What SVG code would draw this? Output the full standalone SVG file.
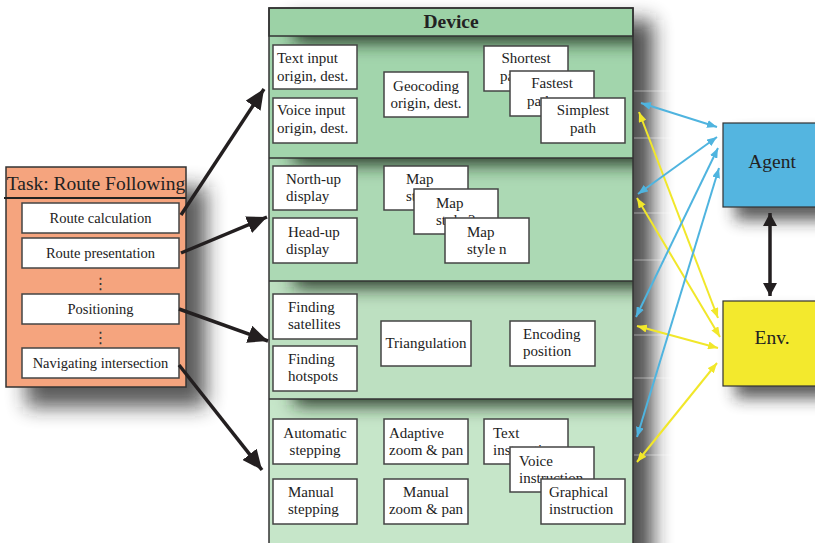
<svg xmlns="http://www.w3.org/2000/svg" width="815" height="543" viewBox="0 0 815 543">
<style>
text{font-family:"Liberation Serif","DejaVu Serif",serif;fill:#222;}
.b{fill:#fff;stroke:#444;stroke-width:1.5;}
.t{font-size:15px;}
.c{text-anchor:middle;}
.tk{font-size:14.5px;text-anchor:middle;}
.dots{font-family:"DejaVu Sans",sans-serif;font-size:16px;text-anchor:middle;fill:#333;}
.sec{stroke:#333;stroke-width:1.5;}
.blue{stroke:#4fb4df;stroke-width:2;fill:none;marker-start:url(#ab);marker-end:url(#ab);}
.yel{stroke:#f1e72a;stroke-width:2;fill:none;marker-start:url(#ay);marker-end:url(#ay);}
.blk{stroke:#231f20;stroke-width:3.5;fill:none;marker-end:url(#ak);}
.faint{stroke:#fff;stroke-opacity:0.45;stroke-width:1;}
</style>
<defs>
<marker id="ab" viewBox="0 0 10 8" refX="10" refY="4" markerWidth="10" markerHeight="8" markerUnits="userSpaceOnUse" orient="auto-start-reverse"><path d="M0,0 L10,4 L0,8 z" fill="#4fb4df"/></marker>
<marker id="ay" viewBox="0 0 10 8" refX="10" refY="4" markerWidth="10" markerHeight="8" markerUnits="userSpaceOnUse" orient="auto-start-reverse"><path d="M0,0 L10,4 L0,8 z" fill="#f1e72a"/></marker>
<marker id="ak" viewBox="0 0 20 18" refX="20" refY="9" markerWidth="20" markerHeight="18" markerUnits="userSpaceOnUse" orient="auto"><path d="M0,0 L20,9 L0,18 z" fill="#231f20"/></marker>
<marker id="ak2" viewBox="0 0 14 14" refX="13" refY="7" markerWidth="14" markerHeight="14" markerUnits="userSpaceOnUse" orient="auto-start-reverse"><path d="M0,0 L13,7 L0,14 z" fill="#231f20"/></marker>
<filter id="sh" x="-0.5" y="-0.5" width="2" height="2"><feGaussianBlur stdDeviation="10"/></filter>
<filter id="sh2" x="-0.5" y="-0.5" width="2" height="2"><feGaussianBlur stdDeviation="8"/></filter>
<filter id="ish" filterUnits="userSpaceOnUse" x="200" y="-100" width="600" height="700"><feGaussianBlur stdDeviation="9"/></filter>
<clipPath id="c1"><rect x="269" y="36" width="364" height="122"/></clipPath>
<clipPath id="c2"><rect x="269" y="158" width="364" height="123"/></clipPath>
<clipPath id="c3"><rect x="269" y="281" width="364" height="118"/></clipPath>
<clipPath id="c4"><rect x="269" y="399" width="364" height="150"/></clipPath>
</defs>

<!-- shadows -->
<rect x="26" y="187" width="180" height="220" fill="#222" opacity="0.75" filter="url(#sh)"/>
<rect x="289" y="20" width="364" height="560" fill="#222" opacity="0.8" filter="url(#sh)"/>
<rect x="735" y="135" width="100" height="85" fill="#222" opacity="0.75" filter="url(#sh2)"/>
<rect x="735" y="313" width="100" height="85" fill="#222" opacity="0.75" filter="url(#sh2)"/>

<!-- faint lines right of device -->
<g id="faint-lines">
<line class="faint" x1="634" y1="91" x2="700" y2="91"/>
<line class="faint" x1="634" y1="138" x2="700" y2="138"/>
<line class="faint" x1="634" y1="213" x2="700" y2="213"/>
<line class="faint" x1="634" y1="260" x2="700" y2="260"/>
<line class="faint" x1="634" y1="335" x2="700" y2="335"/>
<line class="faint" x1="634" y1="378" x2="700" y2="378"/>
<line class="faint" x1="634" y1="455" x2="700" y2="455"/>
</g>

<!-- Task -->
<g id="task">
<rect x="6" y="167" width="180" height="220" fill="#f5a47e" stroke="#333" stroke-width="1.5"/>
<line x1="4" y1="198" x2="186" y2="198" stroke="#222" stroke-width="1.8"/>
<text x="96" y="190" font-size="19.5" text-anchor="middle">Task: Route Following</text>
</g>
<g id="t-calc"><rect class="b" x="22" y="203" width="157" height="30"/><text class="tk" x="100.5" y="223">Route calculation</text></g>
<g id="t-pres"><rect class="b" x="22" y="238" width="157" height="30"/><text class="tk" x="100.5" y="258">Route presentation</text></g>
<g id="t-dots1"><text class="dots" x="100.5" y="289">⋮</text></g>
<g id="t-pos"><rect class="b" x="22" y="294" width="157" height="30"/><text class="tk" x="100.5" y="314">Positioning</text></g>
<g id="t-dots2"><text class="dots" x="100.5" y="343">⋮</text></g>
<g id="t-nav"><rect class="b" x="22" y="348" width="157" height="30"/><text class="tk" x="100.5" y="368">Navigating intersection</text></g>

<!-- Device -->
<g id="device">
<rect x="269" y="36" width="364" height="122" fill="#a2d5ac"/>
<rect x="269" y="158" width="364" height="123" fill="#acd9b4"/>
<rect x="269" y="281" width="364" height="118" fill="#bde0c1"/>
<rect x="269" y="399" width="364" height="150" fill="#c6e6c9"/>
<g clip-path="url(#c1)"><rect x="294" y="20" width="420" height="22" fill="#1a2e1e" filter="url(#ish)"/></g>
<g clip-path="url(#c2)"><rect x="294" y="142" width="420" height="22" fill="#1a2e1e" filter="url(#ish)"/></g>
<g clip-path="url(#c3)"><rect x="294" y="265" width="420" height="22" fill="#1a2e1e" filter="url(#ish)"/></g>
<g clip-path="url(#c4)"><rect x="294" y="383" width="420" height="22" fill="#1a2e1e" filter="url(#ish)"/></g>
<rect x="269" y="8" width="364" height="28" fill="#9cd2a6" class="sec"/>
<rect x="269" y="8" width="364" height="545" fill="none" class="sec"/>
<line class="sec" x1="269" y1="158" x2="633" y2="158"/>
<line class="sec" x1="269" y1="281" x2="633" y2="281"/>
<line class="sec" x1="269" y1="399" x2="633" y2="399"/>
<text x="451" y="28" font-size="19.5" font-weight="bold" text-anchor="middle">Device</text>
</g>

<!-- Section 1 -->
<g id="text-input"><rect class="b" x="273" y="45" width="84" height="44"/><text class="t" x="277" y="63">Text input</text><text class="t" x="277" y="81">origin, dest.</text></g>
<g id="voice-input"><rect class="b" x="273" y="98" width="84" height="45"/><text class="t" x="277" y="115">Voice input</text><text class="t" x="277" y="133">origin, dest.</text></g>
<g id="geocoding"><rect class="b" x="384" y="72" width="84" height="45"/><text class="t c" x="426" y="91">Geocoding</text><text class="t c" x="426" y="108">origin, dest.</text></g>
<g id="shortest"><rect class="b" x="484" y="46" width="84" height="45"/><text class="t c" x="526" y="63">Shortest</text><text class="t" x="500" y="81">path</text></g>
<g id="fastest"><rect class="b" x="510" y="71" width="84" height="45"/><text class="t c" x="552" y="88">Fastest</text><text class="t" x="527" y="106">path</text></g>
<g id="simplest"><rect class="b" x="541" y="98" width="84" height="45"/><text class="t c" x="583" y="115">Simplest</text><text class="t c" x="583" y="133">path</text></g>

<!-- Section 2 -->
<g id="north-up"><rect class="b" x="273" y="166" width="84" height="44"/><text class="t" x="286" y="184">North-up</text><text class="t" x="286" y="201">display</text></g>
<g id="head-up"><rect class="b" x="273" y="218" width="84" height="45"/><text class="t" x="288" y="237">Head-up</text><text class="t" x="286" y="254">display</text></g>
<g id="map1"><rect class="b" x="384" y="166" width="84" height="44"/><text class="t" x="406" y="184">Map</text><text class="t" x="406" y="201">style 1</text></g>
<g id="map2"><rect class="b" x="414" y="189" width="84" height="45"/><text class="t" x="436" y="208">Map</text><text class="t" x="436" y="225">style 2</text></g>
<g id="mapn"><rect class="b" x="445" y="218" width="84" height="45"/><text class="t" x="467" y="237">Map</text><text class="t" x="467" y="254">style n</text></g>

<!-- Section 3 -->
<g id="find-sat"><rect class="b" x="273" y="294" width="84" height="45"/><text class="t" x="288" y="312">Finding</text><text class="t" x="288" y="329">satellites</text></g>
<g id="find-hot"><rect class="b" x="273" y="346" width="84" height="45"/><text class="t" x="288" y="364">Finding</text><text class="t" x="288" y="381">hotspots</text></g>
<g id="triang"><rect class="b" x="381" y="321" width="90" height="45"/><text class="t c" x="426" y="348">Triangulation</text></g>
<g id="encoding"><rect class="b" x="510" y="321" width="85" height="45"/><text class="t" x="523" y="339">Encoding</text><text class="t" x="523" y="356">position</text></g>

<!-- Section 4 -->
<g id="auto-step"><rect class="b" x="273" y="419" width="84" height="45"/><text class="t c" x="315" y="438">Automatic</text><text class="t c" x="315" y="455">stepping</text></g>
<g id="man-step"><rect class="b" x="273" y="479" width="84" height="45"/><text class="t" x="288" y="497">Manual</text><text class="t" x="288" y="514">stepping</text></g>
<g id="adapt-zoom"><rect class="b" x="384" y="419" width="84" height="45"/><text class="t" x="389" y="438">Adaptive</text><text class="t" x="389" y="455">zoom &amp; pan</text></g>
<g id="man-zoom"><rect class="b" x="384" y="479" width="84" height="45"/><text class="t c" x="426" y="497">Manual</text><text class="t c" x="426" y="514">zoom &amp; pan</text></g>
<g id="text-instr"><rect class="b" x="484" y="419" width="84" height="45"/><text class="t" x="493" y="438">Text</text><text class="t" x="493" y="455">instruction</text></g>
<g id="voice-instr"><rect class="b" x="510" y="447" width="84" height="45"/><text class="t" x="519" y="466">Voice</text><text class="t" x="519" y="483">instruction</text></g>
<g id="graph-instr"><rect class="b" x="541" y="479" width="84" height="45"/><text class="t" x="549" y="497">Graphical</text><text class="t" x="549" y="514">instruction</text></g>

<!-- Agent / Env -->
<g id="agent"><rect x="723" y="123" width="110" height="84" fill="#54b5e0" stroke="#333" stroke-width="1.2"/><text x="772" y="168" font-size="19.5" text-anchor="middle">Agent</text></g>
<g id="env"><rect x="723" y="301" width="110" height="85" fill="#f3e92d" stroke="#333" stroke-width="1.2"/><text x="772" y="344" font-size="19.5" text-anchor="middle">Env.</text></g>

<!-- connectors -->
<g id="connectors">
<line class="blk" x1="181" y1="215" x2="264" y2="89"/>
<line class="blk" x1="181" y1="253" x2="267" y2="217"/>
<line class="blk" x1="179" y1="309" x2="268" y2="341"/>
<line class="blk" x1="179" y1="365" x2="262" y2="470"/>
<line x1="770" y1="213" x2="770" y2="296" stroke="#231f20" stroke-width="3.5" marker-start="url(#ak2)" marker-end="url(#ak2)"/>
<line class="yel" x1="639" y1="112" x2="718" y2="318"/>
<line class="yel" x1="637" y1="198" x2="720" y2="337"/>
<line class="yel" x1="637" y1="326" x2="718" y2="348"/>
<line class="yel" x1="637" y1="462" x2="717" y2="363"/>
<line class="blue" x1="641" y1="103" x2="717" y2="127"/>
<line class="blue" x1="638" y1="194" x2="717" y2="137"/>
<line class="blue" x1="636" y1="317" x2="718" y2="148"/>
<line class="blue" x1="637" y1="437" x2="719" y2="168"/>
</g>
</svg>
